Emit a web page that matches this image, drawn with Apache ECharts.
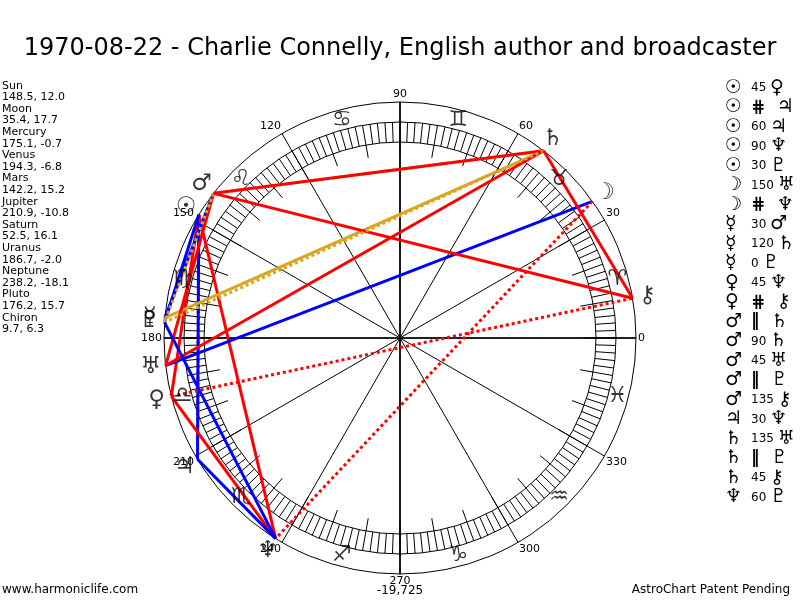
<!DOCTYPE html>
<html>
<head>
<meta charset="utf-8">
<script src="https://cdn.jsdelivr.net/npm/echarts@6/dist/echarts.min.js"></script>
<style>
  html, body { margin: 0; padding: 0; background: #fff; }
  #container { width: 800px; height: 600px; }
</style>
</head>
<body>
<div id="container"></div>
<script>
/* Chart data */
var chartTitle = '1970-08-22 - Charlie Connelly, English author and broadcaster';
var planetNames = ['Sun', 'Moon', 'Mercury', 'Venus', 'Mars', 'Jupiter', 'Saturn', 'Uranus', 'Neptune', 'Pluto', 'Chiron'];
var planetGlyphs = ['☉', '☽', '☿', '♀', '♂', '♃', '♄', '♅', '♆', '♇', '⚷'];
var longitudes = [148.5, 35.4, 175.1, 194.3, 142.2, 210.9, 52.5, 186.7, 238.2, 176.2, 9.7];
var declinations = [12.0, 17.7, -0.7, -6.8, 15.2, -10.8, 16.1, -2.0, -18.1, 15.7, 6.3];
var signGlyphs = ['♈', '♉', '♊', '♋', '♌', '♍', '♎', '♏', '♐', '♑', '♒', '♓'];

/* aspects: planet index pairs and kind, in the order of the list on the right */
var aspectFrom = [0, 0, 0, 0, 0, 1, 1, 2, 2, 2, 3, 3, 4, 4, 4, 4, 4, 5, 6, 6, 6, 8];
var aspectTo   = [3, 5, 5, 8, 9, 7, 8, 4, 6, 9, 8, 10, 6, 6, 7, 9, 10, 8, 7, 9, 10, 9];
var aspectKind = ['45', '#', '60', '90', '30', '150', '#', '30', '120', '0', '45', '#',
                  '||', '90', '45', '||', '135', '30', '135', '||', '45', '60'];

var footLeft = 'www.harmoniclife.com';
var footMid = '-19,725';
var footRight = 'AstroChart Patent Pending';

/* geometry (pixels) */
var CX = 400, CY = 338;
var R_OUT = 236, R_BAND = 216, R_IN = 196, R_SIGN = 225, R_GLYPH = 251, R_FRAME = 260;
var FONT = '"DejaVu Sans", Verdana, sans-serif';

var dom = document.getElementById('container');
var myChart = echarts.init(dom, null, { renderer: 'canvas' });

function kindStyle(kind) {
    if (kind === '#') return { color: '#ff0000', type: 'dotted' };
    if (kind === '||') return { color: '#daa520', type: 'dotted' };
    if (kind === '120' || kind === '0') return { color: '#daa520', type: 'solid' };
    if (kind === '30' || kind === '60' || kind === '150') return { color: '#0000ff', type: 'solid' };
    return { color: '#ff0000', type: 'solid' };
}

/* polar systems: 0 = data frame, 1 = outer wheel, 2 = band outer, 3 = band inner */
var polars = [R_FRAME, R_OUT, R_BAND, R_IN].map(function (r) {
    return { center: [CX, CY], radius: r };
});
var radiusAxes = [R_FRAME, R_OUT, R_BAND, R_IN].map(function (r, i) {
    return {
        polarIndex: i, type: 'value', min: 0, max: r,
        axisLine: { show: false }, axisTick: { show: false },
        axisLabel: { show: false }, splitLine: { show: false }
    };
});
var baseAngle = { type: 'value', min: 0, max: 360, startAngle: 0, clockwise: false };
var angleAxes = [
    Object.assign({}, baseAngle, {
        polarIndex: 0, interval: 30,
        axisLine: { show: false }, axisTick: { show: false },
        axisLabel: { show: false }, splitLine: { show: false }
    }),
    Object.assign({}, baseAngle, {
        polarIndex: 1, interval: 30,
        axisLine: { show: true, lineStyle: { color: '#000', width: 1 } },
        axisTick: { show: false },
        axisLabel: {
            show: true, margin: 2, color: '#000', fontSize: 11, fontFamily: FONT,
            formatter: function (v) { return v === 360 ? '' : String(v); }
        },
        splitLine: { show: true, lineStyle: { color: '#000', width: 1 } }
    }),
    Object.assign({}, baseAngle, {
        polarIndex: 2, interval: 2,
        axisLine: { show: true, lineStyle: { color: '#000', width: 1 } },
        axisTick: { show: true, inside: true, length: R_BAND - R_IN, lineStyle: { color: '#000', width: 1 } },
        axisLabel: { show: false }, splitLine: { show: false }
    }),
    Object.assign({}, baseAngle, {
        polarIndex: 3, interval: 10,
        axisLine: { show: true, lineStyle: { color: '#000', width: 1 } },
        axisTick: { show: true, inside: true, length: 13, lineStyle: { color: '#000', width: 1 } },
        axisLabel: { show: false }, splitLine: { show: false }
    })
];

var series = [];

/* main axes through the centre */
[[0, 180], [90, 270]].forEach(function (pair) {
    series.push({
        type: 'line', coordinateSystem: 'polar', polarIndex: 0,
        symbol: 'none', silent: true, z: 1,
        lineStyle: { color: '#000', width: 1.6 },
        data: [[R_OUT, pair[0]], [R_OUT, pair[1]]]
    });
});

/* aspect lines */
aspectKind.forEach(function (kind, i) {
    var st = kindStyle(kind);
    series.push({
        type: 'line', coordinateSystem: 'polar', polarIndex: 0,
        symbol: 'none', silent: true, z: 3,
        lineStyle: { color: st.color, type: st.type, width: 3 },
        data: [[R_OUT, longitudes[aspectFrom[i]]], [R_OUT, longitudes[aspectTo[i]]]]
    });
});

/* zodiac signs */
series.push({
    type: 'scatter', coordinateSystem: 'polar', polarIndex: 0,
    symbolSize: 1, itemStyle: { color: 'rgba(0,0,0,0)' }, silent: true, z: 4,
    label: {
        show: true, position: 'inside', color: '#000', fontSize: 22, fontFamily: FONT,
        formatter: function (p) { return signGlyphs[p.dataIndex]; }
    },
    data: signGlyphs.map(function (s, i) { return [R_SIGN, i * 30 + 15]; })
});

/* planet glyphs */
series.push({
    type: 'scatter', coordinateSystem: 'polar', polarIndex: 0,
    symbolSize: 1, itemStyle: { color: 'rgba(0,0,0,0)' }, silent: true, z: 4,
    label: {
        show: true, position: 'inside', color: '#000', fontSize: 23, fontFamily: FONT,
        formatter: function (p) { return planetGlyphs[p.dataIndex]; }
    },
    data: longitudes.map(function (l) { return [R_GLYPH, l]; })
});

/* side panels */
var graphics = [];
var leftLines = [];
planetNames.forEach(function (n, i) {
    leftLines.push(n);
    leftLines.push(longitudes[i].toFixed(1) + ', ' + declinations[i].toFixed(1));
});
graphics.push({
    type: 'text', x: 2, y: 80,
    style: { text: leftLines.join('\n'), fontSize: 11, lineHeight: 11.6, fontFamily: FONT, fill: '#000' }
});

aspectKind.forEach(function (kind, i) {
    var isDecl = (kind === '#' || kind === '||');
    var mid = isDecl ? '{m|' + (kind === '#' ? '⋕' : '‖') + '}{n|   }' : '{n|' + kind + ' }';
    graphics.push({
        type: 'text', x: 725, y: 88 + i * 19.5,
        style: {
            text: '{a|' + planetGlyphs[aspectFrom[i]] + '}' + mid + '{g|' + planetGlyphs[aspectTo[i]] + '}',
            verticalAlign: 'middle', fill: '#000',
            rich: {
                a: { fontSize: 19, width: 26, fontFamily: FONT, fill: '#000' },
                g: { fontSize: 19, fontFamily: FONT, fill: '#000' },
                n: { fontSize: 12, fontFamily: FONT, fill: '#000' },
                m: { fontSize: 17, fontWeight: 'bold', fontFamily: FONT, fill: '#000' }
            }
        }
    });
});

graphics.push({
    type: 'text', x: 2, y: 590,
    style: { text: footLeft, fontSize: 12, fontFamily: FONT, fill: '#000', verticalAlign: 'middle' }
});
graphics.push({
    type: 'text', x: 400, y: 591,
    style: { text: footMid, fontSize: 12, fontFamily: FONT, fill: '#000', align: 'center', verticalAlign: 'middle' }
});
graphics.push({
    type: 'text', x: 790, y: 590,
    style: { text: footRight, fontSize: 12, fontFamily: FONT, fill: '#000', align: 'right', verticalAlign: 'middle' }
});

var option = {
    animation: false,
    backgroundColor: '#fff',
    title: {
        text: chartTitle, left: 'center', top: 32,
        textStyle: { fontSize: 24, fontWeight: 'normal', color: '#000', fontFamily: FONT }
    },
    polar: polars,
    radiusAxis: radiusAxes,
    angleAxis: angleAxes,
    series: series,
    graphic: graphics
};

myChart.setOption(option);
</script>
</body>
</html>
